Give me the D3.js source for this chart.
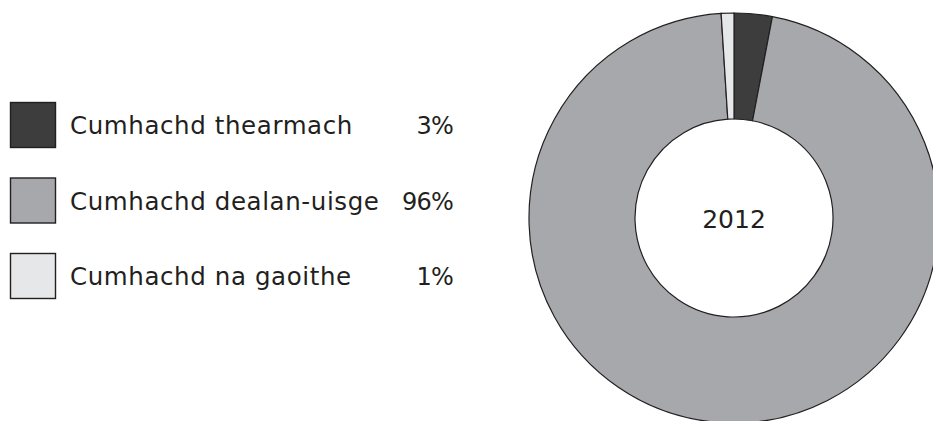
<!DOCTYPE html>
<html lang="cy">
<head>
    <meta charset="UTF-8">
    <title>Cumhachd 2012</title>
    <style>
    body { margin: 0; background: #fff; }
    svg { display: block; }
    text { font-family: "DejaVu Sans", sans-serif; fill: #231f20; }
    .slice { stroke: #231f20; stroke-width: 1.2px; }
    </style>
</head>
<body>
    <svg width="933" height="421"></svg>
    <script src="https://d3js.org/d3.v7.min.js"></script>
    <script type="text/javascript">
        // data
        var labels = ["Cumhachd thearmach", "Cumhachd dealan-uisge", "Cumhachd na gaoithe"];
        var shares = [3, 96, 1];
        var pctLabels = ["3%", "96%", "1%"];
        var colours = ["#3d3d3e", "#a7a8ab", "#e6e7e8"];
        var year = "2012";

        var svg = d3.select("svg"),
            cx = 734, cy = 218,
            outerR = 205, innerR = 99;

        var pie = d3.pie().sort(null).value(function(d) { return d; });
        var arc = d3.arc().innerRadius(innerR).outerRadius(outerR);

        var g = svg.append("g")
          .attr("transform", "translate(" + cx + "," + cy + ")");

        g.selectAll(".slice")
          .data(pie(shares))
          .enter().append("path")
            .attr("class", "slice")
            .attr("d", arc)
            .attr("fill", function(d, i) { return colours[i]; });

        g.append("text")
          .attr("text-anchor", "middle")
          .attr("y", 10)
          .attr("font-size", "25px")
          .text(year);

        // legend
        var row = d3.scalePoint().domain(labels).range([102, 253]);

        var legend = svg.selectAll(".legend")
          .data(labels)
          .enter().append("g")
            .attr("class", "legend")
            .attr("transform", function(d) { return "translate(0," + row(d) + ")"; });

        legend.append("rect")
          .attr("x", 10.5)
          .attr("y", 0.5)
          .attr("width", 45)
          .attr("height", 45)
          .attr("fill", function(d, i) { return colours[i]; })
          .attr("stroke", "#231f20")
          .attr("stroke-width", 1.4);

        legend.append("text")
          .attr("x", 70)
          .attr("y", 32)
          .attr("font-size", "24.5px")
          .attr("letter-spacing", "0.6px")
          .text(function(d) { return d; });

        legend.append("text")
          .attr("x", 453)
          .attr("y", 32)
          .attr("text-anchor", "end")
          .attr("font-size", "24px")
          .attr("letter-spacing", "-0.8px")
          .text(function(d, i) { return pctLabels[i]; });
    </script>
</body>
</html>
